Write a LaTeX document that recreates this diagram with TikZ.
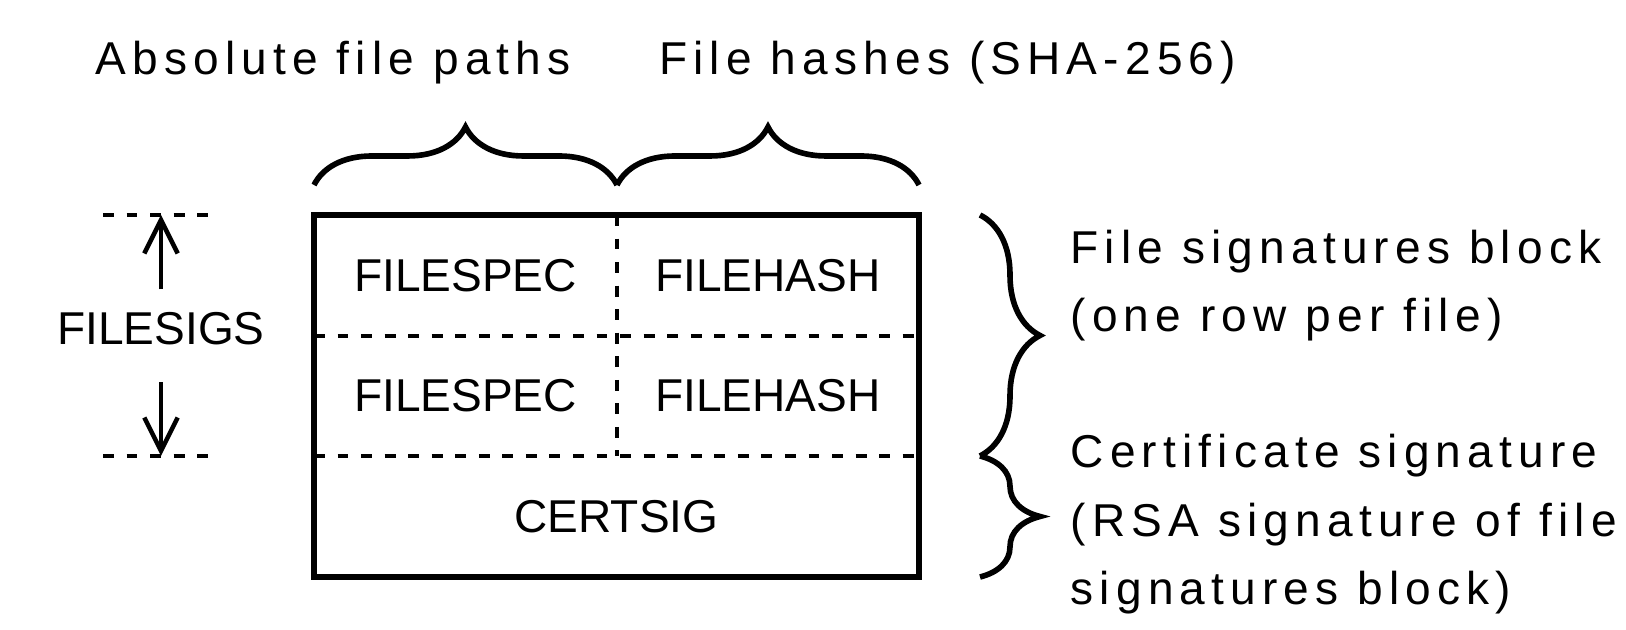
\documentclass[tikz,border=0pt]{standalone}
\usepackage{fontspec}
\setmainfont{Liberation Sans}
\newfontfamily\spacedfont[LetterSpace=13.4]{Liberation Sans}
\usetikzlibrary{arrows.meta,decorations.pathreplacing}

\begin{document}
\begin{tikzpicture}[
  every node/.style={font=\fontsize{13.1}{19.6}\selectfont, inner sep=0pt},
  cell/.style={dash pattern=on 3.1pt off 3.6pt, line width=1.3pt},
  curly/.style={decorate, decoration={brace, amplitude=0.58cm}, line width=1.6pt},
  dim/.style={line width=1.3pt, -{Straight Barb[length=9.5pt,width=9.5pt]}},
  note/.style={font=\spacedfont\fontsize{13.1}{19.6}\selectfont, anchor=base west, align=left}
]
  \useasboundingbox (0,0) rectangle (16.26,6.30);
  % record outline and its inner borders
  \coordinate (nw) at (3.14,4.15);
  \coordinate (se) at (9.19,0.53);
  \coordinate (row1w) at (3.14,2.94);
  \coordinate (row1e) at (9.19,2.94);
  \coordinate (row2w) at (3.14,1.74);
  \coordinate (row2e) at (9.19,1.74);
  \coordinate (midn) at (6.17,4.15);
  \coordinate (mids) at (6.17,1.74);
  \draw[cell] (row1w) -- (row1e);
  \draw[cell] (row2w) -- (row2e);
  \draw[cell] (midn) -- (mids);
  \draw[line width=1.7pt] (nw) rectangle (se);

  \node (spec1) at (4.655,3.545) {FILESPEC};
  \node (hash1) at (7.68,3.545) {FILEHASH};
  \node (spec2) at (4.655,2.34) {FILESPEC};
  \node (hash2) at (7.68,2.34) {FILEHASH};
  \node (cert) at (6.165,1.135) {CERTSIG};

  % column braces
  \coordinate (bl) at (3.14,4.45);
  \coordinate (bm) at (6.17,4.45);
  \coordinate (br) at (9.19,4.45);
  \draw[curly] (bl) -- (bm);
  \draw[curly] (bm) -- (br);
  \node[note] (paths) at (0.95,5.55) {Absolute file paths};
  \node[note] (hashes) at (6.585,5.55) {File hashes (SHA-256)};

  % extent of the signature rows
  \coordinate (sigtop) at (1.61,4.15);
  \coordinate (sigbot) at (1.61,1.74);
  \draw[cell] (1.03,4.15) -- (2.12,4.15);
  \draw[cell] (1.03,1.74) -- (2.12,1.74);
  \node (sigs) at (1.61,3.015) {FILESIGS};
  \draw[dim, shorten <=0.22cm] (sigs) -- (sigtop);
  \draw[dim, shorten <=0.37cm] (sigs) -- (sigbot);

  % row braces
  \coordinate (rt) at (9.80,4.15);
  \coordinate (rm) at (9.80,1.74);
  \coordinate (rb) at (9.80,0.53);
  \draw[curly, decoration={amplitude=0.6cm}] (rt) -- (rm);
  \draw[curly, decoration={amplitude=0.6cm}] (rm) -- (rb);
  % base anchor sits on the last line
  \node[note] (filesig) at (10.70,2.98) {File signatures block\\(one row per file)};
  \node[note] (certsig) at (10.70,0.25) {Certificate signature\\(RSA signature of file\\signatures block)};
\end{tikzpicture}
\end{document}
